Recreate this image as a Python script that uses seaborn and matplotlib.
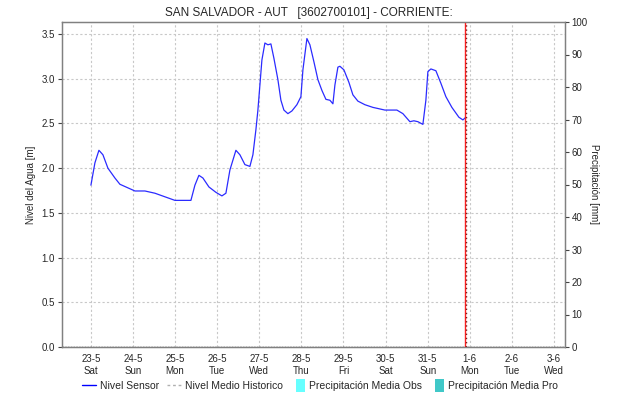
import pandas as pd
import seaborn as sns
import matplotlib.pyplot as plt
from matplotlib.patches import Rectangle
from matplotlib.lines import Line2D
from matplotlib.legend_handler import HandlerPatch

# hours since 23-5 00:00
hours = [0, 2.28, 4.56, 6.84, 9.69, 13.68, 16.53, 21.09, 25.08, 30.78, 36.48, 42.18,
         47.89, 57.01, 59.29, 61.57, 63.85, 67.27, 71.26, 74.68, 76.96, 79.24, 82.66,
         84.94, 87.79, 90.64, 92.35, 94.06, 95.20, 97.48, 99.19, 100.90, 102.61, 104.32,
         106.60, 108.31, 110.02, 112.30, 114.58, 117.43, 119.72, 120.86, 123.14, 124.85,
         127.13, 129.41, 131.69, 133.97, 136.25, 137.96, 139.10, 140.81, 141.95, 144.23,
         147.08, 149.36, 152.21, 156.20, 160.76, 167.60, 174.44, 177.86, 181.85, 184.13,
         186.41, 189.26, 190.97, 192.11, 193.82, 196.67, 199.52, 202.37, 205.79, 209.78,
         212.07, 213.78]
nivel = [1.81, 2.06, 2.20, 2.15, 2.00, 1.89, 1.82, 1.78, 1.745, 1.745, 1.72, 1.68,
         1.64, 1.64, 1.81, 1.92, 1.89, 1.79, 1.73, 1.69, 1.72, 1.98, 2.20,
         2.15, 2.04, 2.02, 2.15, 2.43, 2.65, 3.21, 3.40, 3.38, 3.39, 3.23,
         2.99, 2.76, 2.65, 2.61, 2.64, 2.71, 2.80, 3.10, 3.45, 3.38,
         3.19, 2.99, 2.87, 2.77, 2.76, 2.72, 2.93, 3.13, 3.14, 3.10,
         2.96, 2.82, 2.75, 2.71, 2.68, 2.65, 2.65, 2.61, 2.52, 2.53,
         2.52, 2.49, 2.76, 3.08, 3.11, 3.09, 2.95, 2.80, 2.68, 2.57,
         2.54, 2.57]
ahora = 213.2
dias = pd.date_range("2020-05-23", periods=12, freq="D")
tick_labels = [f"{d.day}-{d.month}\n{d:%a}" for d in dias]

df = pd.DataFrame({"hora": hours, "nivel": nivel})

sns.set_style("white")
plt.rcParams["font.family"] = ["Liberation Sans", "DejaVu Sans"]

fig = plt.figure(figsize=(6.18, 4.0), dpi=100)
ax = fig.add_axes([0.1003, 0.1325, 0.8137, 0.8125])
sns.lineplot(data=df, x="hora", y="nivel", ax=ax, color="#2b2bff", lw=0.9)
ax.axvline(ahora, color="#ff2020", lw=1, zorder=5)
ax.axvline(ahora + 0.6, color="#7a2020", lw=1, ls=(0, (1, 2)), zorder=6)
ax.axhline(0.004, color="#333333", lw=1, ls=(0, (1, 1)), zorder=6)

ax.set_xlim(-16.5, 270.2)
ax.set_ylim(0, 3.635)
ax.set_xticks([i * 24 for i in range(12)])
ax.set_xticklabels(tick_labels, fontsize=7)
ax.set_yticks([0, 0.5, 1, 1.5, 2, 2.5, 3, 3.5])
ax.set_yticklabels([f"{v:.1f}" for v in ax.get_yticks()], fontsize=7)
ax.tick_params(axis="both", length=3, width=0.8, color="#444444", pad=2)
ax.grid(True, color="#c8c8c8", ls=(0, (2, 2)), lw=0.8)
ax.set_xlabel("")
ax.set_ylabel("Nivel del Agua [m]", fontsize=7, labelpad=4)
for s in ax.spines.values():
    s.set_color("#808080")
    s.set_linewidth(1)

ax2 = ax.twinx()
ax2.set_ylim(0, 100)
ax2.set_yticks(range(0, 101, 10))
ax2.tick_params(axis="y", labelsize=7, length=3, width=0.8, color="#444444", pad=2)
ax2.set_ylabel("Precipitación [mm]", fontsize=7, rotation=270, labelpad=8)
for s in ax2.spines.values():
    s.set_color("#808080")

fig.suptitle("SAN SALVADOR - AUT   [3602700101] - CORRIENTE:", fontsize=8.5, y=0.982)


class NarrowPatch(HandlerPatch):
    def create_artists(self, legend, orig_handle, xdescent, ydescent, width, height, fontsize, trans):
        r = Rectangle((width - 7 - xdescent, -ydescent - 2), 7, height + 4,
                      facecolor=orig_handle.get_facecolor(), edgecolor="none", transform=trans)
        return [r]


handles = [
    Line2D([], [], color="#0000ff", lw=1),
    Line2D([], [], color="#b0b0b0", lw=1, ls=(0, (2, 2))),
    Rectangle((0, 0), 1, 1, facecolor="#66ffff"),
    Rectangle((0, 0), 1, 1, facecolor="#40c8c8"),
]
labels = ["Nivel Sensor", "Nivel Medio Historico", "Precipitación Media Obs", "Precipitación Media Pro"]
fig.legend(handles, labels, loc="center", bbox_to_anchor=(0.518, 0.035), ncol=4, frameon=False,
           fontsize=7.5, handlelength=1.35, handletextpad=0.35, columnspacing=0.8,
           handler_map={Rectangle: NarrowPatch()})

fig.savefig("out.png", dpi=100)
